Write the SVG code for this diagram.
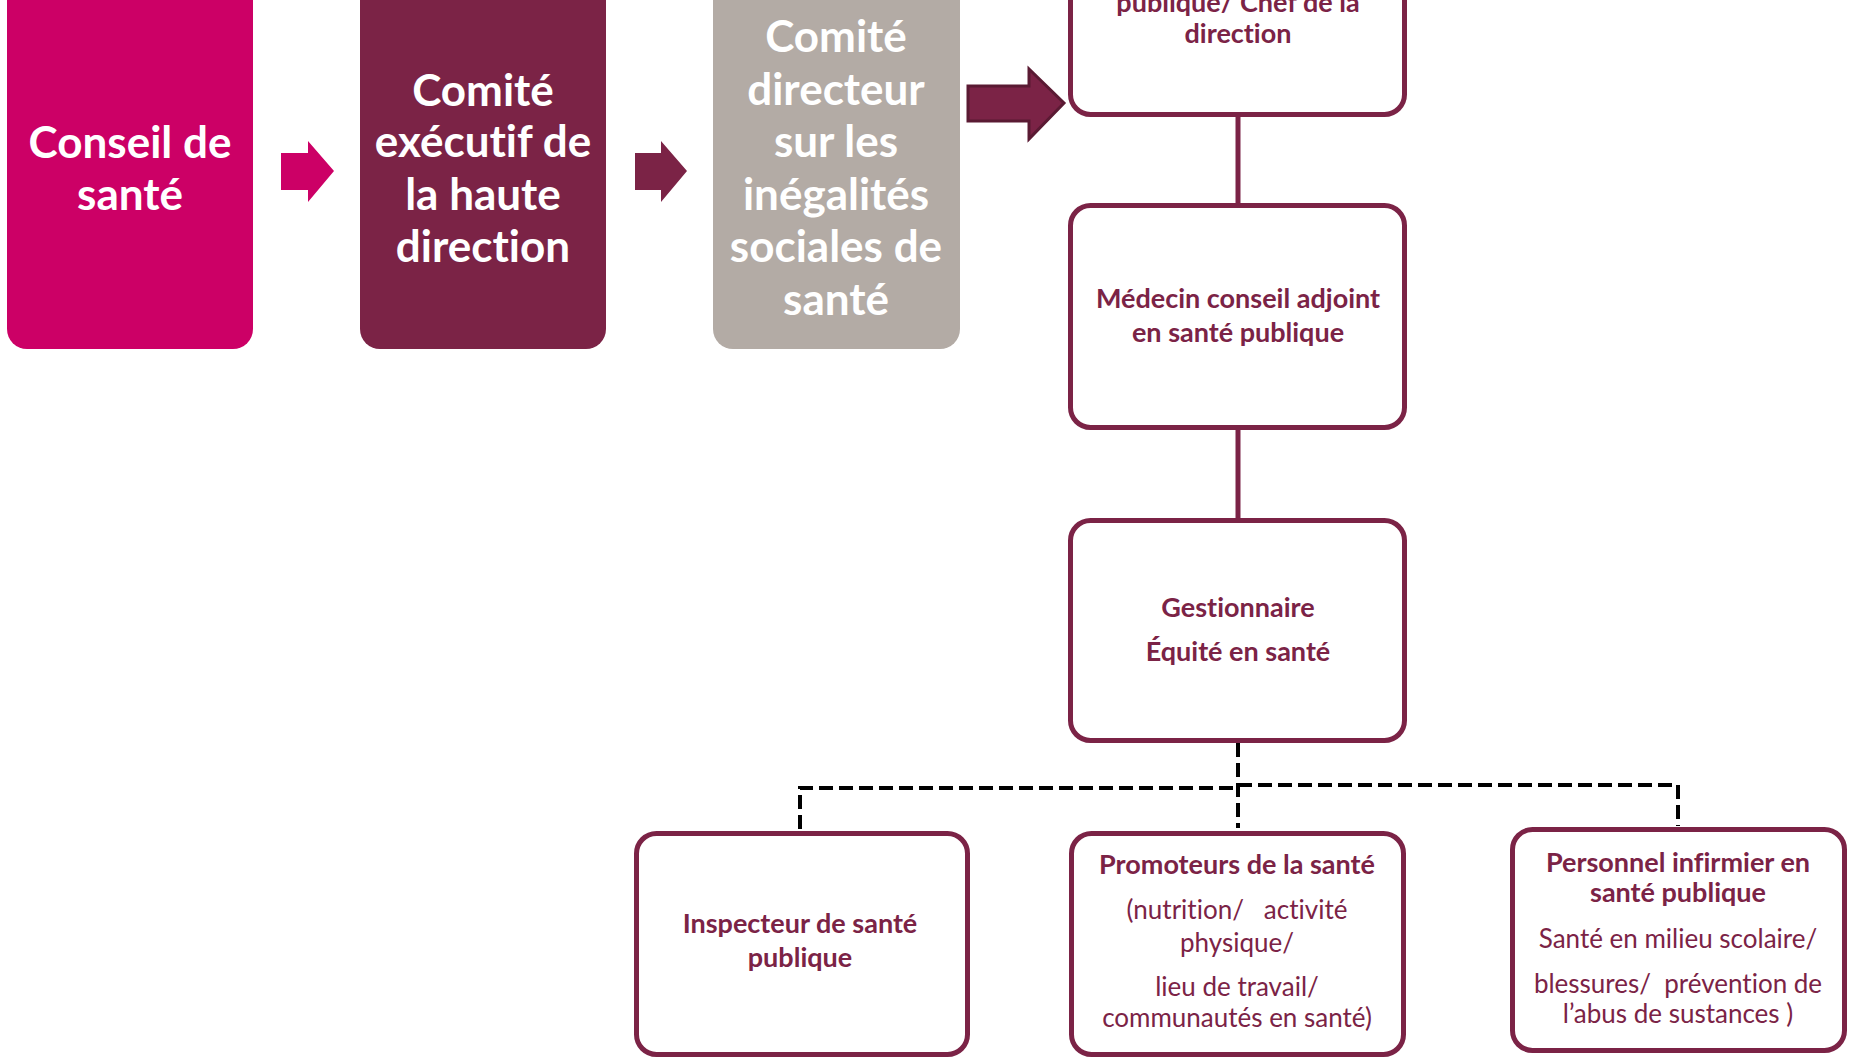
<svg xmlns="http://www.w3.org/2000/svg" width="1855" height="1060" viewBox="0 0 1855 1060">
<style>
text{font-variant-ligatures:none;white-space:pre}
.big{font-family:Lato,"Open Sans","Liberation Sans",sans-serif;font-weight:bold;font-size:44px;fill:#ffffff;text-anchor:middle}
.box{fill:#ffffff;stroke:#7b2346;stroke-width:5}
.t{font-family:Lato,"Open Sans","Liberation Sans",sans-serif;font-weight:bold;font-size:27px;fill:#7b2346;text-anchor:middle}
.r{font-family:Lato,"Open Sans","Liberation Sans",sans-serif;font-size:26px;fill:#7b2346;text-anchor:middle}
.solid{stroke:#7b2346;stroke-width:5;fill:none}
.dash{stroke:#000000;stroke-width:4;fill:none;stroke-dasharray:14 6}
</style>
<rect width="1855" height="1060" fill="#ffffff"/>
<g id="connectors">
<polygon points="281,153 308,153 308,141 334,171 308,202 308,190 281,190" fill="#cc0066"/>
<polygon points="635,153 661,153 661,141 687,171 661,202 661,190 635,190" fill="#7b2346"/>
<polygon points="968,86 1029,86 1029,69 1064,103 1029,139 1029,121 968,121" fill="#7b2346" stroke="#5a1a33" stroke-width="3"/>
<line class="solid" x1="1238" y1="117" x2="1238" y2="203"/>
<line class="solid" x1="1238" y1="430" x2="1238" y2="518"/>
<path class="dash" d="M1238 743 V828"/>
<path class="dash" d="M800 829 V788 H1238"/>
<path class="dash" d="M1238 785 H1678 V826"/>
</g>
<g id="conseil">
<rect x="7" y="-30" width="246" height="379" rx="20" fill="#cc0066"/>
<text class="big" x="130" y="158">Conseil de</text>
<text class="big" x="130" y="210">santé</text>
</g>
<g id="comite-executif">
<rect x="360" y="-30" width="246" height="379" rx="20" fill="#7b2346"/>
<text class="big" x="483" y="106">Comité</text>
<text class="big" x="483" y="157">exécutif de</text>
<text class="big" x="483" y="210">la haute</text>
<text class="big" x="483" y="262">direction</text>
</g>
<g id="comite-directeur">
<rect x="713" y="-30" width="247" height="379" rx="20" fill="#b3aba5"/>
<text class="big" x="836" y="52">Comité</text>
<text class="big" x="836" y="105">directeur</text>
<text class="big" x="836" y="157">sur les</text>
<text class="big" x="836" y="210">inégalités</text>
<text class="big" x="836" y="262">sociales de</text>
<text class="big" x="836" y="315">santé</text>
</g>
<g id="chef-direction">
<rect class="box" x="1070.5" y="-40" width="334" height="154.5" rx="20"/>
<text class="t" x="1238" y="12">publique/ Chef de la</text>
<text class="t" x="1238" y="43">direction</text>
</g>
<g id="medecin-adjoint">
<rect class="box" x="1070.5" y="205.5" width="334" height="222" rx="20"/>
<text class="t" x="1238" y="308">Médecin conseil adjoint</text>
<text class="t" x="1238" y="342">en santé publique</text>
</g>
<g id="gestionnaire">
<rect class="box" x="1070.5" y="520.5" width="334" height="220" rx="20"/>
<text class="t" x="1238" y="617">Gestionnaire</text>
<text class="t" x="1238" y="661">Équité en santé</text>
</g>
<g id="inspecteur">
<rect class="box" x="636.5" y="833.5" width="331" height="221" rx="20"/>
<text class="t" x="800" y="933">Inspecteur de santé</text>
<text class="t" x="800" y="967">publique</text>
</g>
<g id="promoteurs">
<rect class="box" x="1071.5" y="833.5" width="332" height="221" rx="20"/>
<text class="t" x="1237" y="874">Promoteurs de la santé</text>
<text class="r" x="1237" y="919">(nutrition/   activité</text>
<text class="r" x="1237" y="952">physique/</text>
<text class="r" x="1237" y="996">lieu de travail/</text>
<text class="r" x="1237" y="1027">communautés en santé)</text>
</g>
<g id="infirmier">
<rect class="box" x="1512.5" y="829.5" width="332" height="221" rx="20"/>
<text class="t" x="1678" y="872">Personnel infirmier en</text>
<text class="t" x="1678" y="902">santé publique</text>
<text class="r" x="1678" y="948">Santé en milieu scolaire/</text>
<text class="r" x="1678" y="993">blessures/  prévention de</text>
<text class="r" x="1678" y="1023">l’abus de sustances )</text>
</g>
</svg>
